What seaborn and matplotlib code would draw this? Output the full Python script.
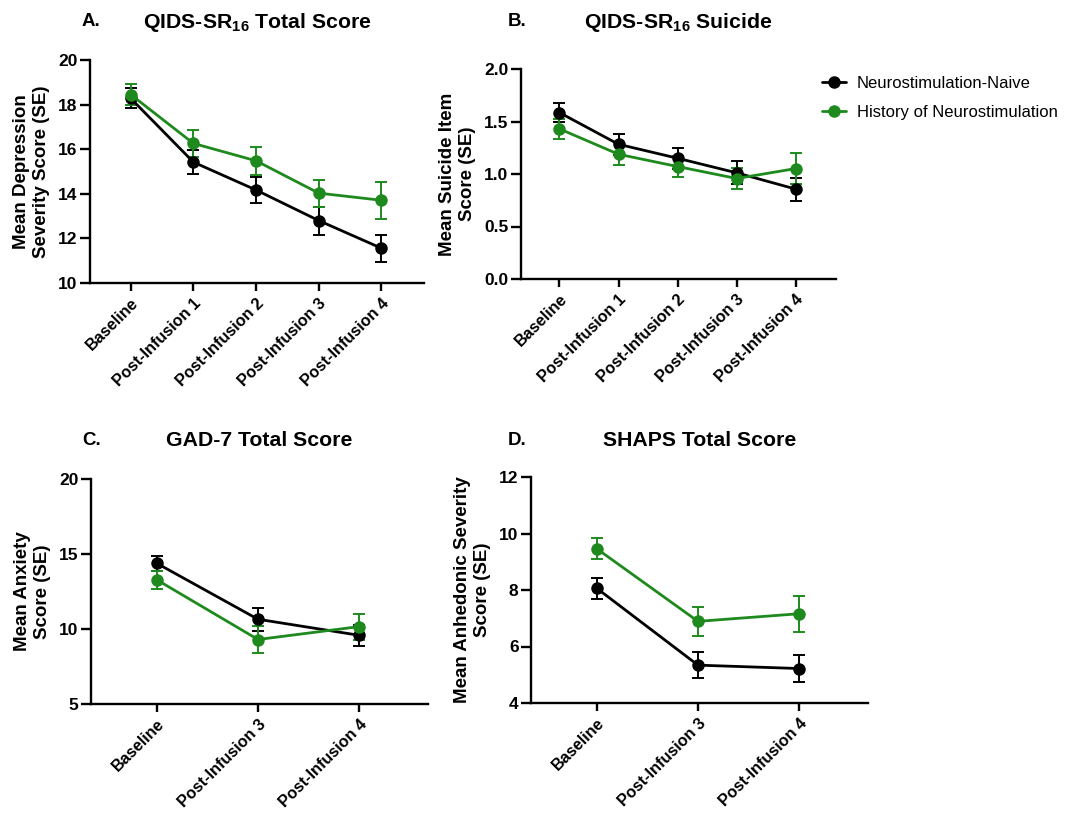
import numpy as np
import pandas as pd
import seaborn as sns
import matplotlib.pyplot as plt
import matplotlib.ticker as mticker

sns.set_style('ticks')
plt.rcParams['font.family'] = ['Liberation Sans', 'DejaVu Sans']
plt.rcParams['mathtext.fontset'] = 'custom'
plt.rcParams['mathtext.rm'] = 'Liberation Sans'
plt.rcParams['mathtext.bf'] = 'Liberation Sans:bold'
for k in ['text.color', 'axes.labelcolor', 'xtick.color', 'ytick.color']:
    plt.rcParams[k] = 'black'

### Data (means and SE)
groups = ['Neurostimulation-Naive', 'History of Neurostimulation']
colors = {'Neurostimulation-Naive': 'black', 'History of Neurostimulation': '#1E8A1E'}

times5 = ['Baseline', 'Post-Infusion 1', 'Post-Infusion 2', 'Post-Infusion 3', 'Post-Infusion 4']
times3 = ['Baseline', 'Post-Infusion 3', 'Post-Infusion 4']

# A. QIDS-SR16 total
qids_naive = [18.28, 15.42, 14.17, 12.80, 11.56]
qids_naive_se = [0.45, 0.53, 0.60, 0.63, 0.61]
qids_hist = [18.45, 16.26, 15.48, 14.03, 13.71]
qids_hist_se = [0.48, 0.60, 0.63, 0.60, 0.83]

# B. QIDS-SR16 suicide item
sui_naive = [1.585, 1.283, 1.15, 1.011, 0.856]
sui_naive_se = [0.09, 0.10, 0.10, 0.11, 0.11]
sui_hist = [1.43, 1.188, 1.071, 0.957, 1.052]
sui_hist_se = [0.095, 0.105, 0.10, 0.10, 0.148]

# C. GAD-7 total
gad_naive = [14.38, 10.65, 9.58]
gad_naive_se = [0.50, 0.75, 0.70]
gad_hist = [13.28, 9.30, 10.16]
gad_hist_se = [0.60, 0.88, 0.87]

# D. SHAPS total
shaps_naive = [8.06, 5.34, 5.22]
shaps_naive_se = [0.37, 0.47, 0.49]
shaps_hist = [9.46, 6.89, 7.16]
shaps_hist_se = [0.38, 0.52, 0.64]

W, H = 1066, 818
fig = plt.figure(figsize=(W / 100, H / 100), dpi=100)


def panel(rect, times, naive, naive_se, hist, hist_se, ylim, ystep, ylabel, letter, title,
          title_y, letter_x, fmt=None):
    ax = fig.add_axes(rect)
    df = pd.DataFrame({
        'time': times * 2,
        'mean': naive + hist,
        'se': naive_se + hist_se,
        'group': [groups[0]] * len(times) + [groups[1]] * len(times),
    })
    for g in groups:
        sub = df[df['group'] == g]
        ax.errorbar(sub['time'], sub['mean'], yerr=sub['se'], fmt='none',
                    ecolor=colors[g], elinewidth=1.4, capsize=4.5, capthick=1.4, zorder=2)
    sns.lineplot(data=df, x='time', y='mean', hue='group', hue_order=groups,
                 palette=colors, marker='o', markersize=9, markeredgewidth=0,
                 linewidth=2, sort=False, errorbar=None, ax=ax, zorder=3)
    ax.get_legend().remove()

    n = len(times)
    ax.set_xlim(-0.65, n - 1 + 0.68)
    ax.set_ylim(*ylim)
    ax.yaxis.set_major_locator(mticker.MultipleLocator(ystep))
    if fmt:
        ax.yaxis.set_major_formatter(mticker.FormatStrFormatter(fmt))
    sns.despine(ax=ax)
    for m in ['left', 'bottom']:
        ax.spines[m].set_linewidth(1.7)
        ax.spines[m].set_color('black')
    ax.tick_params(axis='y', width=1.7, length=7, pad=2, color='black')
    ax.tick_params(axis='x', width=1.7, length=6, pad=3, color='black')
    ax.set_xlabel('')
    ax.set_ylabel(ylabel, fontsize=13.5, fontweight='bold', labelpad=6, linespacing=1.2)
    for lab in ax.get_yticklabels():
        lab.set_fontweight('bold')
        lab.set_fontsize(12.5)
    ax.set_xticks(range(n))
    ax.set_xticklabels(times, rotation=45, ha='right', rotation_mode='anchor',
                       fontweight='bold', fontsize=11.7)

    ### Titles and panel letters
    cx = rect[0] + rect[2] / 2
    fig.text(cx, 1 - title_y / H, title, fontsize=15.3, fontweight='bold', ha='center', va='center')
    fig.text(letter_x / W, 1 - title_y / H, letter, fontsize=13.5, fontweight='bold', ha='left', va='center')
    return ax


axA = panel([90 / W, 1 - 283 / H, 334 / W, 223 / H], times5, qids_naive, qids_naive_se, qids_hist, qids_hist_se,
            (10, 20), 2, 'Mean Depression\nSeverity Score (SE)', 'A.', r'QIDS-SR$_{\mathbf{16}}$ Total Score',
            22, 82)
axB = panel([521 / W, 1 - 279 / H, 315 / W, 210 / H], times5, sui_naive, sui_naive_se, sui_hist, sui_hist_se,
            (0, 2), 0.5, 'Mean Suicide Item\nScore (SE)', 'B.', r'QIDS-SR$_{\mathbf{16}}$ Suicide',
            22, 508, fmt='%.1f')
axC = panel([91 / W, 1 - 704 / H, 337 / W, 225 / H], times3, gad_naive, gad_naive_se, gad_hist, gad_hist_se,
            (5, 20), 5, 'Mean Anxiety\nScore (SE)', 'C.', 'GAD-7 Total Score',
            441, 82)
axD = panel([531 / W, 1 - 703 / H, 337 / W, 226 / H], times3, shaps_naive, shaps_naive_se, shaps_hist, shaps_hist_se,
            (4, 12), 2, 'Mean Anhedonic Severity\nScore (SE)', 'D.', 'SHAPS Total Score',
            441, 508)

### Legend
handles, labels = axB.get_legend_handles_labels()
fig.legend(handles, labels, loc='upper left', bbox_to_anchor=(822 / W, 1 - 76 / H),
           frameon=False, fontsize=12, handlelength=1.45, handletextpad=0.65,
           labelspacing=0.85, borderaxespad=0, borderpad=0)

fig.savefig('out.png', dpi=100)
